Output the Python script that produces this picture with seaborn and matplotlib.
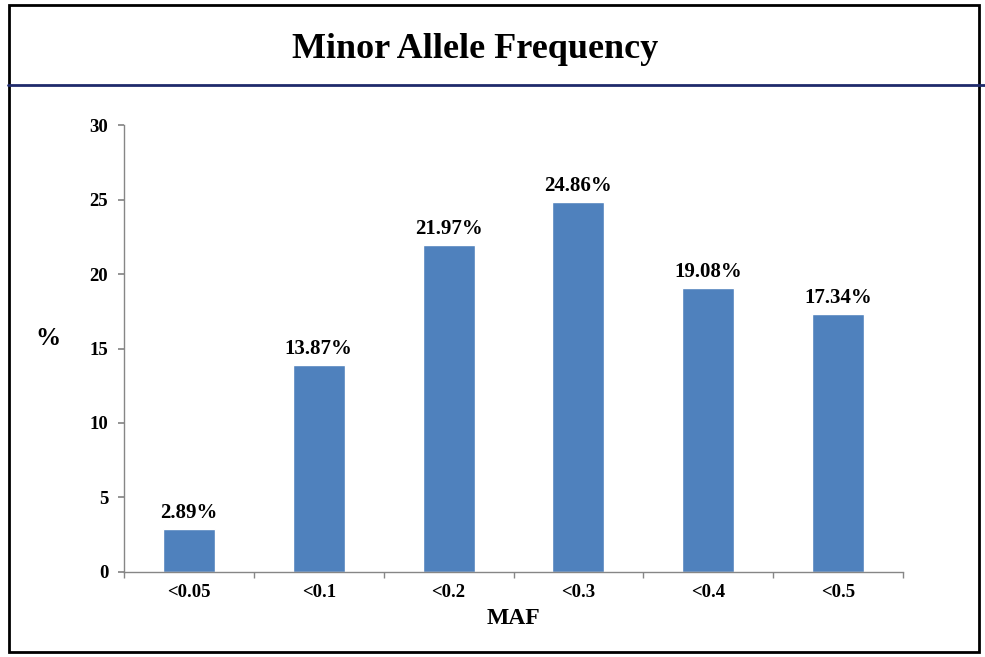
import matplotlib
matplotlib.use("Agg")
import matplotlib.pyplot as plt
import seaborn as sns
import pandas as pd
from matplotlib.lines import Line2D
from matplotlib.patches import Rectangle

# chart data
maf_bins = ["<0.05", "<0.1", "<0.2", "<0.3", "<0.4", "<0.5"]
percent = [2.89, 13.87, 21.97, 24.86, 19.08, 17.34]

df = pd.DataFrame({"MAF": maf_bins, "pct": percent})

sns.set_theme(style="white")
plt.rcParams["font.family"] = ["Liberation Serif", "DejaVu Serif"]
plt.rcParams["font.weight"] = "bold"
plt.rcParams["text.color"] = "black"
plt.rcParams["axes.labelcolor"] = "black"
plt.rcParams["xtick.color"] = "black"
plt.rcParams["ytick.color"] = "black"

fig = plt.figure(figsize=(9.85, 6.57), dpi=100)
ax = fig.add_axes([0.1259, 0.1294, 0.7909, 0.6803])

sns.barplot(data=df, x="MAF", y="pct", color="#4F81BD", width=0.4,
            saturation=1, ax=ax)

# data labels above bars
for i, v in enumerate(percent):
    ax.text(i, v + 0.4, f"{v:.2f}%", ha="center", va="bottom",
            fontsize=15, fontweight="bold", color="black")

ax.set_ylim(0, 30)
ax.set_xlim(-0.5, len(maf_bins) - 0.5)
ax.set_yticks(range(0, 31, 5))
ax.tick_params(axis="y", labelsize=13.5, length=4.3, color="#868686", direction="out", left=True, pad=7)
ax.tick_params(axis="x", which="major", length=0, labelsize=13.5, pad=9)
ax.set_xticks([i - 0.5 for i in range(len(maf_bins) + 1)], minor=True)
ax.tick_params(axis="x", which="minor", length=4, color="#868686", direction="out", bottom=True)
for lbl in ax.get_xticklabels() + ax.get_yticklabels():
    lbl.set_fontweight("bold")

for s in ["top", "right"]:
    ax.spines[s].set_visible(False)
for s in ["left", "bottom"]:
    ax.spines[s].set_color("#868686")
    ax.spines[s].set_linewidth(1)

ax.set_xlabel("MAF", fontsize=17, fontweight="bold", labelpad=5)
ax.set_ylabel("%", fontsize=18, fontweight="bold", rotation=0, labelpad=0, va="center")
ax.yaxis.set_label_coords(-0.098, 0.523)

# title band, blue rule and outer frame
fig.text(0.482, 0.925, "Minor Allele Frequency", ha="center", va="center",
         fontsize=26, fontweight="bold")
fig.add_artist(Line2D([0.008, 1.0], [0.8706, 0.8706], color="#1F2A6B",
                      linewidth=2, transform=fig.transFigure))
fig.add_artist(Rectangle((0.009, 0.007), 0.985, 0.985, fill=False,
                         edgecolor="black", linewidth=2, transform=fig.transFigure))

fig.savefig("out.png", dpi=100)
